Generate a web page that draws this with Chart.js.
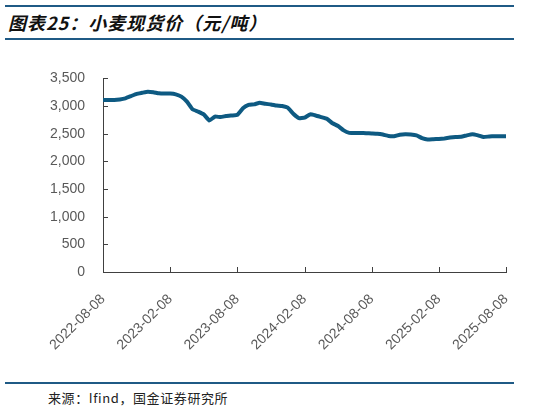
<!DOCTYPE html>
<html>
<head>
<meta charset="utf-8">
<script src="https://cdn.jsdelivr.net/npm/chart.js@4/dist/chart.umd.min.js"></script>
<style>
  html, body { margin: 0; padding: 0; background: #fff; }
  body { width: 541px; height: 411px; position: relative; overflow: hidden; font-family: "Noto Sans CJK SC", sans-serif; }
  .rule { position: absolute; left: 5px; width: 509px; height: 2px; background: #1f5a85; }
  .title { position: absolute; left: 8px; top: 9px; font-size: 18px; font-weight: bold; font-style: italic; letter-spacing: 1px; color: #111; }
  .source { position: absolute; left: 48px; top: 388px; font-size: 13px; letter-spacing: 0.6px; color: #222; }
  .wrap { position: absolute; left: 0; top: 60px; width: 541px; height: 300px; }
</style>
</head>
<body>
<div class="rule" style="top:5px"></div>
<div class="title">图表25：小麦现货价（元/吨）</div>
<div class="rule" style="top:38px"></div>
<div class="wrap"><canvas id="chartWheat"></canvas></div>
<div class="rule" style="top:382px"></div>
<div class="source">来源：Ifind，国金证券研究所</div>

<script>
// month offsets from 2022-08-08 and spot price (yuan/ton)
const months = [0,0.5,1,1.5,2,2.5,3,3.5,4,4.5,5,5.5,6,6.5,7,7.5,8,8.5,9,9.5,10,10.5,11,11.5,12,12.5,13,13.5,14,14.5,15,15.5,16,16.5,17,17.5,18,18.5,19,19.5,20,20.5,21,21.5,22,22.5,23,23.5,24,24.5,25,25.5,26,26.5,27,27.5,28,28.5,29,29.5,30,30.5,31,31.5,32,32.5,33,33.5,34,34.5,35,35.5,36];
const prices = [3110,3110,3110,3120,3140,3180,3220,3240,3260,3250,3230,3225,3225,3210,3170,3080,2940,2900,2850,2740,2810,2800,2820,2830,2840,2960,3020,3030,3060,3040,3030,3010,3000,2970,2860,2780,2790,2850,2830,2800,2770,2690,2640,2560,2515,2515,2515,2510,2505,2500,2485,2460,2455,2480,2490,2485,2470,2420,2395,2400,2405,2415,2430,2440,2445,2470,2490,2470,2440,2450,2455,2455,2455];
const tickLabels = ['2022-08-08','2023-02-08','2023-08-08','2024-02-08','2024-08-08','2025-02-08','2025-08-08'];
const yTicks = [0,500,1000,1500,2000,2500,3000,3500];

const axisColor = '#404040';
const labelColor = '#595959';

const innerTicks = {
  id: 'innerTicks',
  afterDraw(chart) {
    const { ctx, chartArea, scales } = chart;
    ctx.save();
    ctx.strokeStyle = axisColor;
    ctx.lineWidth = 1;
    ctx.beginPath();
    scales.y.ticks.forEach(t => {
      const y = Math.round(scales.y.getPixelForValue(t.value)) + 0.5;
      ctx.moveTo(chartArea.left, y); ctx.lineTo(chartArea.left + 5, y);
    });
    scales.x.ticks.forEach(t => {
      const x = Math.round(scales.x.getPixelForValue(t.value)) + 0.5;
      ctx.moveTo(x, chartArea.bottom); ctx.lineTo(x, chartArea.bottom - 5);
    });
    ctx.stroke();
    ctx.restore();
  }
};

new Chart(document.getElementById('chartWheat'), {
  type: 'line',
  data: {
    datasets: [{
      data: months.map((m, i) => ({ x: m, y: prices[i] })),
      borderColor: '#0e5a82',
      borderWidth: 4,
      pointRadius: 0,
      tension: 0.1,
      fill: false
    }]
  },
  plugins: [innerTicks],
  options: {
    responsive: true, maintainAspectRatio: false, animation: false,
    layout: { padding: { top: 14, right: 35, left: 0, bottom: 0 } },
    plugins: { legend: { display: false }, tooltip: { enabled: false } },
    scales: {
      x: {
        type: 'linear', min: 0, max: 36,
        afterBuildTicks: s => { s.ticks = tickLabels.map((_, i) => ({ value: i * 6 })); },
        afterFit: s => { s.height = 88; },
        grid: { display: false },
        border: { display: true, color: axisColor, width: 1 },
        ticks: {
          autoSkip: false, minRotation: 45, maxRotation: 45, padding: 11,
          color: labelColor, font: { family: 'Arial, "Liberation Sans"', size: 14 },
          callback: (v, i) => tickLabels[i]
        }
      },
      y: {
        min: 0, max: 3500,
        afterBuildTicks: s => { s.ticks = yTicks.map(v => ({ value: v })); },
        afterFit: s => { s.width = 103; },
        grid: { display: false },
        border: { display: true, color: axisColor, width: 1 },
        ticks: {
          padding: 10, color: labelColor,
          font: { family: 'Arial, "Liberation Sans"', size: 14 }
        }
      }
    }
  }
});
</script>
</body>
</html>
